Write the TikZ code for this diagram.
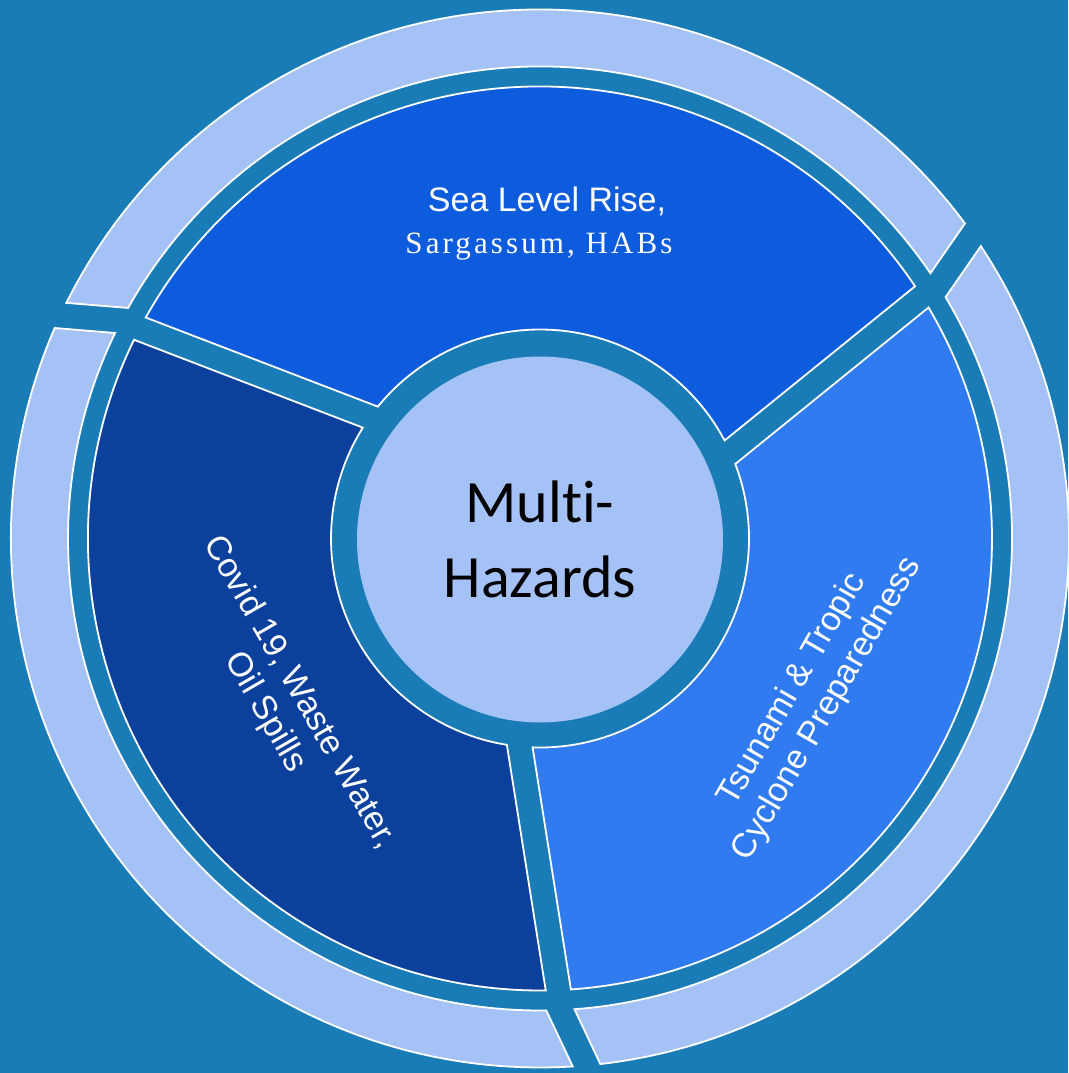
\documentclass[tikz,border=0pt]{standalone}
\usepackage{fontspec}
\newfontfamily\sansf{Liberation Sans}
\newfontfamily\serifls[LetterSpace=10]{Liberation Serif}
\newfontfamily\calf[Ligatures={NoCommon}]{Carlito}
\definecolor{bgc}{RGB}{26,124,182}
\definecolor{ringc}{RGB}{164,194,246}
\definecolor{topc}{RGB}{14,92,222}
\definecolor{leftc}{RGB}{11,64,156}
\definecolor{rightc}{RGB}{48,123,240}
\begin{document}
\begin{tikzpicture}[x=1pt,y=1pt,
  ringp/.style={fill=ringc, draw=white, line width=1.8pt, line join=miter},
  sect/.style={draw=white, line width=1.8pt, line join=miter},
  lbl/.style={text=white, align=center, font=\sansf\fontsize{34}{40}\selectfont}]
\useasboundingbox (-540,-534.5) rectangle (528,538.5);
\clip (-540,-534.5) rectangle (528,538.5);
\fill[bgc] (-540,-534.5) rectangle (528,538.5);
% outer ring pieces
\draw[ringp] (36.55:529) arc[start angle=36.55, end angle=153.55, radius=529]
  -- (150.76:472) arc[start angle=150.76, end angle=34.19, radius=472] -- cycle;
\draw[ringp] (-83.45:529) arc[start angle=-83.45, end angle=33.55, radius=529]
  -- (30.76:472) arc[start angle=30.76, end angle=-85.81, radius=472] -- cycle;
\draw[ringp] (156.55:529) arc[start angle=156.55, end angle=273.55, radius=529]
  -- (270.76:472) arc[start angle=270.76, end angle=154.19, radius=472] -- cycle;
% sectors
\draw[sect, fill=topc] (33.92:452) arc[start angle=33.92, end angle=150.73, radius=452]
  -- (140.88:209) arc[start angle=140.88, end angle=27.97, radius=209] -- cycle;
\draw[sect, fill=rightc] (-86.08:452) arc[start angle=-86.08, end angle=30.73, radius=452]
  -- (20.88:209) arc[start angle=20.88, end angle=-92.03, radius=209] -- cycle;
\draw[sect, fill=leftc] (153.92:452) arc[start angle=153.92, end angle=270.73, radius=452]
  -- (260.88:209) arc[start angle=260.88, end angle=147.97, radius=209] -- cycle;
% hub
\node[circle, fill=ringc, minimum size=366pt, inner sep=0pt, align=center,
  font=\calf\fontsize{60}{75}\selectfont, text=black] (hub) at (0,-1) {Multi-\\Hazards};
% labels
\node[anchor=base, text=white, font=\sansf\fontsize{34}{40}\selectfont] (topa) at (7,326.5) {Sea Level Rise,};
\node[anchor=base, text=white, font=\serifls\fontsize{31}{36}\selectfont] (topb) at (-1,284.5) {Sargassum, HABs};
\node[lbl, rotate=-60] (lefttxt) at (-258,-164) {Covid 19, Waste Water,\\Oil Spills};
\node[lbl, rotate=60] (righttxt) at (270,-161) {Tsunami \& Tropic\\Cyclone Preparedness};
\end{tikzpicture}
\end{document}
